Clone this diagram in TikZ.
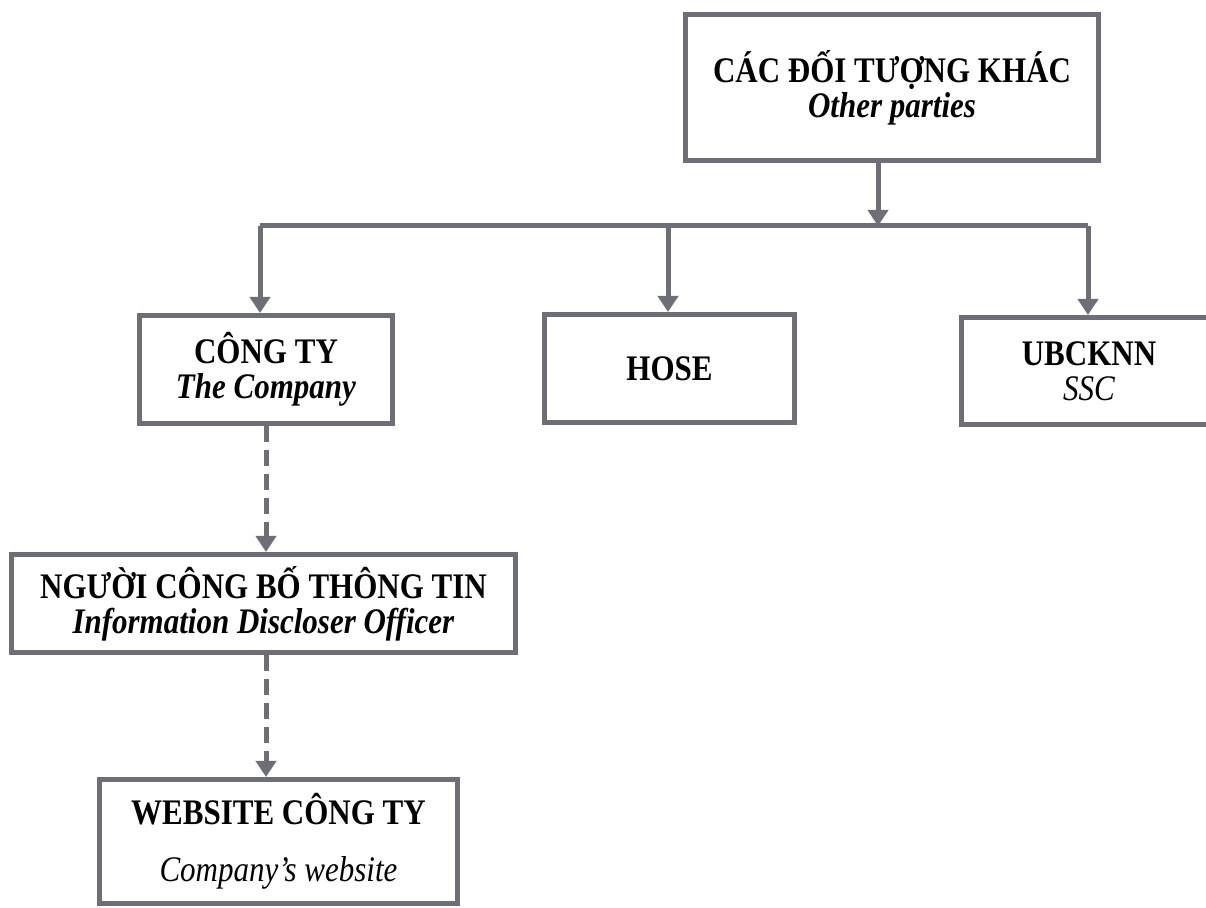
\documentclass[tikz,border=0pt]{standalone}
\usepackage{fontspec}
\setmainfont{Liberation Serif}
\usetikzlibrary{arrows.meta}

\definecolor{MGray}{HTML}{6E6E76}
\newcommand{\tallline}[1]{\scalebox{1}[1.16]{#1}}
\newcommand{\boxfont}{\fontsize{15.5}{17.5}\selectfont\setlength{\lineskiplimit}{-20pt}}

\begin{document}
\begin{tikzpicture}[x=0.5pt, y=-0.5pt,
			box/.style={draw=MGray, line width=2.5pt, align=center, inner sep=0pt, font=\boxfont},
			link/.style={draw=MGray, line width=2.5pt, -{Triangle[width=10pt,length=8pt]}},
			dlink/.style={link, dash pattern=on 8pt off 4pt}]
			\useasboundingbox (0,0) rectangle (1206,908);
			
			\node[box, minimum width=206.5pt, minimum height=73pt] (others) at (892,87.5) {\tallline{\textbf{CÁC ĐỐI TƯỢNG KHÁC}}\\ \tallline{\textbf{\textit{Other parties}}}};
			\node[box, minimum width=126.5pt, minimum height=54pt] (company) at (266,369.5) {\tallline{\textbf{CÔNG TY}}\\ \tallline{\textbf{\textit{The Company}}}};
			\node[box, minimum width=125pt, minimum height=54pt] (hose) at (669.5,368.5) {\tallline{\textbf{HOSE}}};
			\node[box, minimum width=127.5pt, minimum height=53.5pt] (ssc) at (1089,371) {\tallline{\textbf{UBCKNN}}\\ \tallline{\textit{SSC}}};
			\node[box, minimum width=252pt, minimum height=49pt] (officer) at (263.5,603.5) {\tallline{\textbf{NGƯỜI CÔNG BỐ THÔNG TIN}}\\ \tallline{\textbf{\textit{Information Discloser Officer}}}};
			\node[box, minimum width=179pt, minimum height=62pt] (website) at (278.5,841.5) {\tallline{\textbf{WEBSITE CÔNG TY}}\\[11pt] \tallline{\textit{Company’s website}}};
			
			\coordinate (hub) at (878,226);
			\coordinate (barL) at (260,226);
			\coordinate (barM) at (668,226);
			\coordinate (barR) at (1088,226);
			\coordinate (down) at (266,0);
			
			\draw[link] (others.south -| hub) -- (hub);
			\draw[draw=MGray, line width=2.5pt] (barL) -- (barR);
			\draw[link] (barL) -- (barL |- company.north);
			\draw[link] (barM) -- (barM |- hose.north);
			\draw[link] (barR) -- (barR |- ssc.north);
			
			\draw[dlink] (company.south -| down) -- (officer.north -| down);
			\draw[dlink] (officer.south -| down) -- (website.north -| down);
			
		\end{tikzpicture}
\end{document}
